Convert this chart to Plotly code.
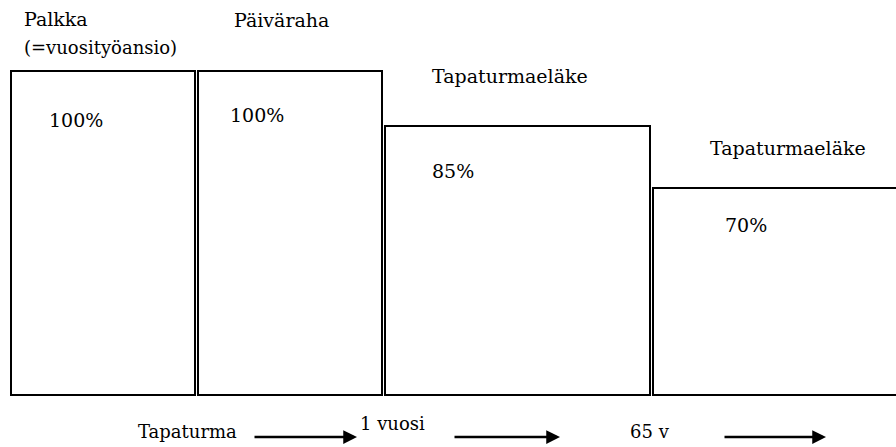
import plotly.graph_objects as go

# Data: time segments (start, end) on a horizontal time axis and relative level heights
segments = ["Palkka", "Päiväraha", "Tapaturmaeläke", "Tapaturmaeläke 65 v"]
seg_start = [11, 198, 385, 653]
seg_end = [195, 382, 650, 900]
levels = [100, 100, 83, 64]
pct_labels = ["100%", "100%", "85%", "70%"]
top_labels = ["Palkka<br>(=vuosityöansio)", "Päiväraha", "Tapaturmaeläke", "Tapaturmaeläke"]
timeline_labels = ["Tapaturma", "1 vuosi", "65 v"]

W, H = 896, 447
BASE_PX = 395          # pixel row of the zero line
UNIT = 3.24            # pixels per level unit

def ypx(p):
    """convert pixel row to data y"""
    return (BASE_PX - p) / UNIT

centers = [(a + b) / 2 for a, b in zip(seg_start, seg_end)]
widths = [b - a for a, b in zip(seg_start, seg_end)]

fig = go.Figure()
fig.add_trace(go.Bar(
    x=centers, y=levels, width=widths, base=0,
    marker=dict(color="white", line=dict(color="black", width=2)),
    hoverinfo="skip", showlegend=False,
))

FAM = "DejaVu Serif"
ann = []

def txt(t, x, y, size=19):
    ann.append(dict(text=t, x=x, y=ypx(y), xref="x", yref="y", showarrow=False,
                    xanchor="left", yanchor="middle", align="left",
                    font=dict(family=FAM, size=size, color="black")))

# top labels
txt("Palkka", 22, 19)
txt("(=vuosityöansio)", 22, 47, 18)
txt(top_labels[1], 232, 20)
txt(top_labels[2], 430, 76)
txt(top_labels[3], 708, 148)
# percent labels
txt(pct_labels[0], 47, 120)
txt(pct_labels[1], 228, 115)
txt(pct_labels[2], 430, 171)
txt(pct_labels[3], 723, 225)
# timeline
txt(timeline_labels[0], 136, 431, 18)
txt(timeline_labels[1], 358, 423, 18)
txt(timeline_labels[2], 628, 431, 18)

for tail, head in [(253, 357), (453, 560), (723, 826)]:
    ann.append(dict(x=head, y=ypx(437), ax=tail, ay=ypx(437), xref="x", yref="y",
                    axref="x", ayref="y", text="", showarrow=True,
                    arrowhead=2, arrowsize=1.1, arrowwidth=2.5, arrowcolor="black"))

fig.update_layout(
    width=W, height=H,
    margin=dict(l=0, r=0, t=0, b=0),
    paper_bgcolor="white", plot_bgcolor="white",
    xaxis=dict(range=[0, W], visible=False, fixedrange=True),
    yaxis=dict(range=[ypx(H), ypx(0)], visible=False, fixedrange=True),
    annotations=ann,
    bargap=0,
)

fig.write_html("out.html", post_script="document.body.style.margin='0';",
               config={"displayModeBar": False})
